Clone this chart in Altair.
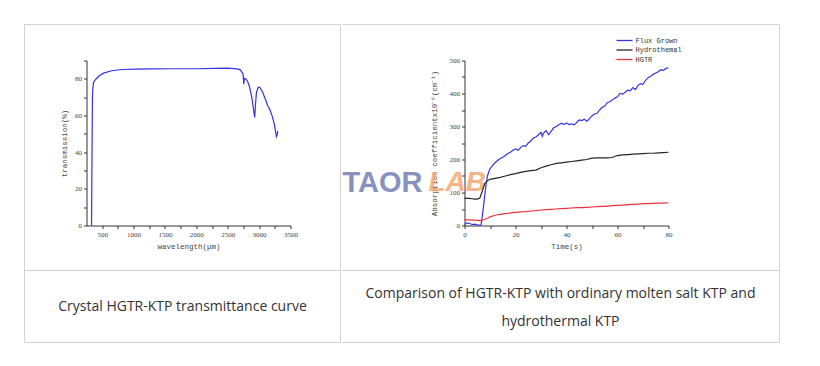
import altair as alt
import pandas as pd

# ---------------- data ----------------
wavelength = [330, 338, 345, 350, 361, 398, 450, 521, 653, 812, 1051, 1300, 1600, 2000,
              2300, 2500, 2650, 2702, 2745, 2755, 2766, 2793, 2819, 2850, 2888, 2914,
              2930, 2941, 2957, 2984, 3010, 3048, 3100, 3137, 3169, 3207, 3244, 3265,
              3275, 3291, 3297]
transmission = [0, 40, 70, 74, 78, 79.8, 81.5, 83.1, 84.4, 85.1, 85.3, 85.4, 85.5, 85.5,
                85.7, 85.8, 85.4, 84.9, 82.5, 77.1, 80.2, 79.8, 78.4, 75.3, 68.9, 62.5,
                58.9, 65.3, 72.5, 75.3, 75.3, 73.4, 68.9, 65.3, 63.4, 59.8, 55.2, 50.7,
                48.5, 49.8, 51.6]

flux_t = [0, 1, 2, 3, 4, 5, 6, 6.5, 7, 7.5, 8, 8.5, 9, 9.5, 10, 11, 12, 13, 14, 15, 16,
          17, 18, 19, 20, 21, 22, 23, 24, 25, 26, 27, 28, 29, 30, 30.5, 31, 32, 33, 34,
          35, 36, 37, 38, 39, 40, 41, 42, 43, 44, 45, 46, 47, 48, 49, 50, 51, 52, 53,
          54, 55, 56, 57, 58, 59, 60, 61, 62, 63, 64, 65, 66, 67, 68, 69, 70, 71, 72,
          73, 74, 75, 76, 77, 78, 79, 80]
flux_v = [3, 8, 6, 3, 4, 2, 1, 2, 30, 60, 95, 125, 150, 162, 172, 182, 190, 197, 203,
          207, 212, 218, 222, 228, 232, 228, 236, 242, 240, 250, 256, 265, 268, 275, 282,
          270, 280, 287, 275, 286, 296, 300, 305, 310, 306, 311, 306, 308, 305, 312, 320,
          318, 322, 316, 324, 332, 338, 340, 350, 358, 362, 372, 375, 380, 386, 390, 400,
          398, 404, 410, 408, 418, 412, 424, 430, 428, 440, 448, 452, 458, 462, 466, 472,
          470, 476, 478]

hydro_t = [0, 1, 2, 3, 4, 5, 6, 7, 8, 9, 10, 12, 14, 16, 18, 20, 22, 24, 26, 28, 30, 32,
           34, 36, 38, 40, 42, 44, 46, 48, 50, 52, 54, 56, 58, 59, 60, 62, 64, 66, 68, 70,
           72, 74, 76, 78, 80]
hydro_v = [83, 82, 82, 81, 80, 80, 83, 105, 128, 136, 140, 143, 146, 150, 154, 157, 161,
           164, 166, 168, 175, 180, 184, 188, 190, 192, 194, 196, 198, 200, 204, 205, 205,
           205, 206, 210, 212, 214, 215, 216, 217, 218, 219, 219, 220, 221, 222]

hgtr_t = [0, 2, 4, 6, 7, 8, 9, 10, 12, 14, 16, 18, 20, 22, 24, 26, 28, 30, 32, 34, 36, 38,
          40, 42, 44, 46, 48, 50, 52, 54, 56, 58, 60, 62, 64, 66, 68, 70, 72, 74, 76, 78, 80]
hgtr_v = [17, 17, 16, 15, 16, 19, 22, 26, 31, 34, 36, 38, 40, 41, 42, 44, 45, 47, 48, 49,
          50, 51, 52, 53, 54, 54, 55, 56, 57, 58, 59, 60, 61, 62, 63, 64, 65, 66, 66, 67,
          68, 68, 69]

series_names = ["Flux Grown", "Hydrothemal", "HGTR"]
series_colors = ["#3434e0", "#262626", "#e8323c"]

left_caption = "Crystal HGTR-KTP transmittance curve"
right_caption = ["Comparison of HGTR-KTP with ordinary molten salt KTP and", "hydrothermal KTP"]

# ---------------- frames ----------------
left_df = pd.DataFrame({"wavelength": wavelength, "transmission": transmission,
                        "idx": list(range(len(wavelength)))})
right_df = pd.concat([
    pd.DataFrame({"time": flux_t, "value": flux_v, "series": series_names[0]}),
    pd.DataFrame({"time": hydro_t, "value": hydro_v, "series": series_names[1]}),
    pd.DataFrame({"time": hgtr_t, "value": hgtr_v, "series": series_names[2]}),
], ignore_index=True)
one = pd.DataFrame({"a": [0]})

BORDER = "#d2d2d2"
AX_LABEL_FONT = "Liberation Serif"
AX_TITLE_FONT = "Liberation Mono"
CAP_FONT = "Open Sans"


def rule(x, x2, y, y2):
    return alt.Chart(one).mark_rule(color=BORDER, strokeWidth=1).encode(
        x=alt.value(x), x2=alt.value(x2), y=alt.value(y), y2=alt.value(y2))


def text(s, x, y, size=14, color="#333333", font=CAP_FONT, align="center", **kw):
    return alt.Chart(one).mark_text(text=s, fontSize=size, color=color, font=font,
                                    align=align, baseline="middle", **kw).encode(
        x=alt.value(x), y=alt.value(y))


W, H = 204, 165

# ---------------- left panel ----------------
left_line = alt.Chart(left_df).mark_line(color="#3434e0", strokeWidth=1.2).encode(
    x=alt.X("wavelength:Q", scale=alt.Scale(domain=[250, 3500], nice=False, zero=False),
            axis=alt.Axis(title="wavelength(μm)",
                          values=list(range(500, 3501, 250)),
                          labelExpr="datum.value % 500 === 0 ? datum.label : ''",
                          format="d")),
    y=alt.Y("transmission:Q", scale=alt.Scale(domain=[0, 90], nice=False),
            axis=alt.Axis(title="transmission(%)", values=list(range(0, 91, 10)),
                          labelExpr="datum.value % 20 === 0 && datum.value < 90 ? datum.label : ''")),
    order=alt.Order("idx:Q"),
)

left = alt.layer(
    rule(-62, 254, -36, -36),
    rule(-62, 254, 210, 210),
    rule(-62, 254, 282, 282),
    rule(-62, -62, -36, 282),
    rule(254, 254, -36, 282),
    text(left_caption, 96, 246),
    left_line,
).properties(width=W, height=H)

# ---------------- right panel ----------------
right_lines = alt.Chart(right_df).mark_line(strokeWidth=1.2).encode(
    x=alt.X("time:Q", scale=alt.Scale(domain=[0, 80], nice=False),
            axis=alt.Axis(title="Time(s)", values=list(range(0, 81, 10)),
                          labelExpr="datum.value % 20 === 0 ? datum.label : ''")),
    y=alt.Y("value:Q", scale=alt.Scale(domain=[0, 500], nice=False),
            axis=alt.Axis(title="Absorption coefficientx10⁻⁶(cm⁻¹)",
                          values=list(range(0, 501, 50)), titlePadding=11,
                          labelExpr="datum.value % 100 === 0 ? datum.label : ''")),
    color=alt.Color("series:N",
                    scale=alt.Scale(domain=series_names, range=series_colors),
                    legend=alt.Legend(orient="none", legendX=533, legendY=-25, title=None,
                                      symbolType="M-2,0H2", symbolSize=64,
                                      symbolStrokeWidth=1.3, labelFont=AX_TITLE_FONT,
                                      labelFontSize=7, labelColor="#333333",
                                      rowPadding=1.5, labelOffset=6, padding=0)),
)

right = alt.layer(
    rule(-122, 315, -36, -36),
    rule(-122, 315, 210, 210),
    rule(-122, 315, 282, 282),
    rule(315, 315, -36, 282),
    text("TAOR", -122, 122, size=29, color="#7380b4", font="Liberation Sans",
         align="left", fontWeight="bold", opacity=0.85),
    text("LAB", -36, 122, size=28, color="#f4a36c", font="Liberation Sans",
         align="left", fontWeight="bold", fontStyle="italic", opacity=0.8),
    text(right_caption[0], 96, 233),
    text(right_caption[1], 96, 261),
    right_lines,
).properties(width=W, height=H)

chart = alt.hconcat(left, right, spacing=0).properties(
    padding={"left": 15.5, "top": 15.5, "right": 5, "bottom": 5}
).configure_view(stroke=None).configure_axis(
    grid=False, domainColor="#333333", tickColor="#333333", tickSize=3,
    labelFont=AX_LABEL_FONT, labelFontSize=7, labelColor="#444444", labelPadding=2,
    titleFont=AX_TITLE_FONT, titleFontSize=7.5, titleFontWeight="normal",
    titleColor="#444444", labelFlush=False, labelOverlap=False,
).configure_axisX(titlePadding=5).configure_axisY(titlePadding=6)

chart.save("out.html", embed_options={"renderer": "svg", "actions": False})
